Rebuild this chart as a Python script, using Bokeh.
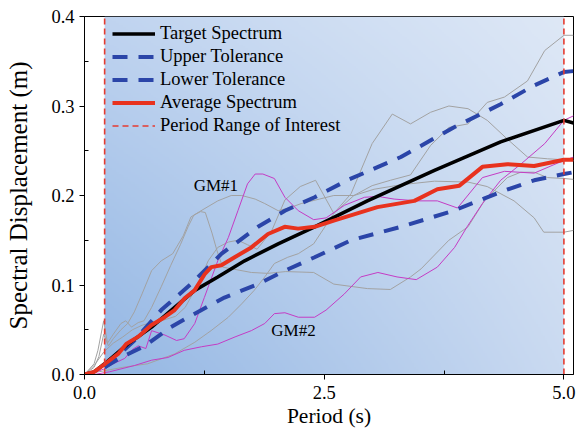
import numpy as np
from bokeh.plotting import figure
from bokeh.models import FixedTicker, Legend, LegendItem, Range1d, PrintfTickFormatter
from bokeh.core.properties import value
from bokeh.embed import file_html
from bokeh.resources import INLINE

# ---------------- data ----------------
target_T = [0, 0.1, 0.21, 0.45, 0.7, 0.94, 1.15, 1.39, 1.67, 2.02, 2.4, 2.95, 3.65, 4.34, 5.0, 5.1]
target_Sd = [0, 0.003, 0.012, 0.034, 0.053, 0.075, 0.094, 0.109, 0.127, 0.146, 0.165, 0.194, 0.228, 0.26, 0.284, 0.281]

upper_T = [0.21, 0.26, 0.52, 0.8, 1.11, 1.43, 1.81, 2.09, 2.4, 2.74, 3.3, 3.85, 4.34, 4.69, 5.0, 5.1]
upper_Sd = [0.008, 0.012, 0.038, 0.072, 0.101, 0.135, 0.165, 0.183, 0.198, 0.217, 0.243, 0.276, 0.302, 0.323, 0.338, 0.339]

lower_T = [0.21, 0.38, 0.63, 0.9, 1.15, 1.46, 1.81, 2.09, 2.4, 2.78, 3.3, 3.85, 4.34, 4.69, 5.0, 5.1]
lower_Sd = [0.008, 0.019, 0.032, 0.053, 0.068, 0.086, 0.101, 0.116, 0.131, 0.15, 0.165, 0.183, 0.204, 0.217, 0.224, 0.226]

avg_T = [0, 0.1, 0.216, 0.35, 0.435, 0.557, 0.696, 0.835, 0.94, 1.044, 1.148, 1.253, 1.322, 1.427, 1.566,
         1.74, 1.914, 2.088, 2.227, 2.4, 2.6, 3.055, 3.44, 3.68, 3.91, 4.15, 4.41, 4.69, 5.0, 5.1]
avg_Sd = [0, 0.003, 0.012, 0.023, 0.034, 0.042, 0.055, 0.064, 0.072, 0.085, 0.094, 0.112, 0.12, 0.122, 0.131,
          0.142, 0.157, 0.165, 0.163, 0.165, 0.172, 0.187, 0.194, 0.207, 0.211, 0.232, 0.235, 0.233, 0.24, 0.24]

gm1_T = [0, 0.1, 0.2, 0.3, 0.42, 0.5, 0.56, 0.64, 0.7, 0.84, 0.96, 1.04, 1.15, 1.25, 1.39, 1.5, 1.6, 1.7, 1.78,
         1.86, 1.98, 2.09, 2.23, 2.39, 2.52, 2.71, 2.92, 3.06, 3.23, 3.47, 3.68, 3.89, 4.15, 4.38, 4.69, 4.93, 5.1]
gm1_Sd = [0, 0.002, 0.006, 0.012, 0.018, 0.028, 0.032, 0.029, 0.049, 0.044, 0.038, 0.04, 0.057, 0.086, 0.127,
          0.153, 0.183, 0.213, 0.224, 0.224, 0.219, 0.198, 0.183, 0.173, 0.175, 0.189, 0.198, 0.199, 0.196,
          0.194, 0.194, 0.186, 0.22, 0.227, 0.225, 0.236, 0.243]

gm2_T = [0, 0.1, 0.26, 0.52, 0.7, 0.87, 1.04, 1.22, 1.39, 1.57, 1.74, 1.88, 1.98, 2.09, 2.23, 2.4, 2.52, 2.71,
         2.88, 3.06, 3.26, 3.46, 3.68, 3.86, 3.99, 4.15, 4.34, 4.55, 4.8, 5.0, 5.1]
gm2_Sd = [0, 0.0, 0.003, 0.01, 0.016, 0.019, 0.027, 0.031, 0.034, 0.042, 0.049, 0.057, 0.068, 0.069, 0.064,
          0.064, 0.072, 0.09, 0.109, 0.114, 0.109, 0.106, 0.12, 0.142, 0.165, 0.191, 0.217, 0.235, 0.258, 0.284, 0.289]

g1_T = [0, 0.1, 0.15, 0.2, 0.25, 0.3, 0.38, 0.45, 0.52, 0.6, 0.7, 0.8, 0.92, 1.03, 1.11, 1.2, 1.39, 1.53, 1.64,
        1.78, 1.88, 2.02, 2.16, 2.26, 2.45, 2.6, 2.81, 3.02, 3.3, 3.65, 4.0, 4.2, 4.48, 4.69, 4.79, 5.0, 5.1]
g1_Sd = [0, 0.008, 0.02, 0.045, 0.032, 0.04, 0.05, 0.057, 0.07, 0.09, 0.116, 0.127, 0.135, 0.155, 0.176, 0.182,
         0.194, 0.2, 0.2, 0.196, 0.191, 0.183, 0.187, 0.191, 0.196, 0.2, 0.2, 0.207, 0.212, 0.216, 0.215, 0.21,
         0.194, 0.175, 0.159, 0.159, 0.161]

g2_T = [0, 0.1, 0.14, 0.2, 0.24, 0.3, 0.38, 0.43, 0.49, 0.56, 0.62, 0.7, 0.8, 0.9, 1.0, 1.08, 1.14, 1.21, 1.26,
        1.33, 1.38, 1.44, 1.54, 1.74, 1.91, 2.1, 2.39, 2.6, 2.95, 3.19, 3.4, 3.51, 3.8, 4.0, 4.17, 4.41, 4.55,
        4.69, 4.83, 5.0, 5.1]
g2_Sd = [0, 0.012, 0.027, 0.06, 0.035, 0.045, 0.057, 0.06, 0.053, 0.058, 0.06, 0.075, 0.098, 0.122, 0.145, 0.165,
         0.178, 0.182, 0.181, 0.158, 0.139, 0.12, 0.118, 0.114, 0.113, 0.115, 0.114, 0.101, 0.096, 0.095, 0.109,
         0.118, 0.15, 0.165, 0.194, 0.22, 0.226, 0.226, 0.22, 0.219, 0.218]

g3_T = [0, 0.2, 0.4, 0.66, 0.94, 1.15, 1.32, 1.5, 1.64, 1.77, 1.88, 1.98, 2.12, 2.23, 2.39, 2.6, 2.81, 3.0, 3.19,
        3.4, 3.61, 3.8, 4.0, 4.2, 4.38, 4.62, 4.8, 5.0, 5.1]
g3_Sd = [0, 0.004, 0.008, 0.012, 0.023, 0.036, 0.049, 0.064, 0.079, 0.094, 0.109, 0.124, 0.131, 0.135, 0.146,
         0.18, 0.2, 0.211, 0.217, 0.223, 0.256, 0.276, 0.28, 0.304, 0.31, 0.328, 0.362, 0.379, 0.379]

g4_T = [0, 0.1, 0.2, 0.3, 0.4, 0.5, 0.6, 0.7, 0.8, 0.95, 1.05, 1.18, 1.29, 1.39, 1.5, 1.6, 1.7, 1.8, 1.95, 2.09,
        2.25, 2.41, 2.6, 2.78, 3.0, 3.21, 3.4, 3.61, 3.8, 4.0, 4.2, 4.41, 4.62, 4.83, 5.0, 5.1]
g4_Sd = [0, 0.01, 0.025, 0.035, 0.042, 0.05, 0.055, 0.058, 0.06, 0.065, 0.075, 0.1, 0.127, 0.142, 0.148, 0.15,
         0.145, 0.14, 0.16, 0.195, 0.21, 0.217, 0.18, 0.202, 0.258, 0.291, 0.28, 0.293, 0.3, 0.297, 0.284, 0.263,
         0.243, 0.241, 0.24, 0.239]

period_range = [0.21, 5.0]
gm_labels = ["GM#1", "GM#2"]
gm_label_T = [1.37, 2.18]
gm_label_Sd = [0.211, 0.049]

x_ticks = [0.0, 2.5, 5.0]
x_minor = [1.25, 3.75]
y_ticks = [0.0, 0.1, 0.2, 0.3, 0.4]
y_minor = [0.05, 0.15, 0.25, 0.35]

# ---------------- figure ----------------
FONT = "Liberation Serif"
p = figure(width=579, height=436, output_backend="svg", toolbar_location=None,
           x_range=Range1d(0, 5.1), y_range=Range1d(0, 0.4),
           min_border_left=84, min_border_right=6, min_border_top=16, min_border_bottom=62)
p.background_fill_color = "white"
p.border_fill_color = "white"
p.outline_line_color = "black"
p.outline_line_width = 1
p.xgrid.visible = False
p.ygrid.visible = False

# shaded gradient in period range of interest
ny, nx = 200, 260
yy, xx = np.mgrid[0:ny, 0:nx]
s = yy / (ny - 1)  # 0 bottom -> 1 top
t = xx / (nx - 1)  # 0 left -> 1 right
BL = np.array([148, 183, 228]); TL = np.array([192, 212, 240])
BR = np.array([202, 218, 241]); TR = np.array([222, 232, 246])
col = ((1 - s)[..., None] * ((1 - t)[..., None] * BL + t[..., None] * BR)
       + s[..., None] * ((1 - t)[..., None] * TL + t[..., None] * TR))
rgba = np.zeros((ny, nx, 4), dtype=np.uint8)
rgba[..., :3] = col.astype(np.uint8)
rgba[..., 3] = 255
img = rgba.view(dtype=np.uint32).reshape((ny, nx))
p.image_rgba(image=[img], x=period_range[0], y=0, dw=period_range[1] - period_range[0], dh=0.4)

GRAY = "#a2a2a2"
MAG = "#c43cc4"
for tx, sy in [(g1_T, g1_Sd), (g2_T, g2_Sd), (g3_T, g3_Sd), (g4_T, g4_Sd)]:
    p.line(tx, sy, line_color=GRAY, line_width=1)
for tx, sy in [(gm1_T, gm1_Sd), (gm2_T, gm2_Sd)]:
    p.line(tx, sy, line_color=MAG, line_width=1)

BLUE = "#2b45a8"
r_up = p.line(upper_T, upper_Sd, line_color=BLUE, line_width=4, line_dash="15 11")
r_lo = p.line(lower_T, lower_Sd, line_color=BLUE, line_width=4, line_dash="15 11")
r_tg = p.line(target_T, target_Sd, line_color="black", line_width=3.5)
r_av = p.line(avg_T, avg_Sd, line_color="#e8321e", line_width=4)
r_pr = p.segment(x0=period_range, y0=[0, 0], x1=period_range, y1=[0.4, 0.4],
                 line_color="#e53b30", line_width=1.6, line_dash="6 4")

p.text(x=gm_label_T, y=gm_label_Sd, text=gm_labels, text_font=value(FONT), text_font_size="17px",
       text_align="center", text_baseline="middle", text_color="black")

legend = Legend(items=[
    LegendItem(label="Target Spectrum", renderers=[r_tg]),
    LegendItem(label="Upper Tolerance", renderers=[r_up]),
    LegendItem(label="Lower Tolerance", renderers=[r_lo]),
    LegendItem(label="Average Spectrum", renderers=[r_av]),
    LegendItem(label="Period Range of Interest", renderers=[r_pr]),
], location=(26, 236))
legend.padding = 2
legend.margin = 0
legend.spacing = 2
legend.glyph_width = 43
legend.glyph_height = 21
legend.label_height = 21
legend.label_standoff = 5
legend.label_text_font = FONT
legend.label_text_font_size = "18.5px"
legend.label_text_color = "black"
legend.background_fill_alpha = 0
legend.border_line_alpha = 0
p.add_layout(legend)

# axes
for ax in (p.xaxis[0], p.yaxis[0]):
    ax.axis_line_color = "black"
    ax.major_tick_line_color = "black"
    ax.minor_tick_line_color = "black"
    ax.major_tick_out = 5
    ax.major_tick_in = 0
    ax.minor_tick_in = 4
    ax.minor_tick_out = 0
    ax.major_label_text_font = FONT
    ax.major_label_text_font_size = "18.5px"
    ax.major_label_text_color = "black"
    ax.axis_label_text_font = FONT
    ax.axis_label_text_font_style = "normal"
    ax.axis_label_text_color = "black"
    ax.formatter = PrintfTickFormatter(format="%.1f")

p.xaxis.ticker = FixedTicker(ticks=x_ticks, minor_ticks=x_minor)
p.yaxis.ticker = FixedTicker(ticks=y_ticks, minor_ticks=y_minor)
p.xaxis.axis_label = "Period (s)"
p.yaxis.axis_label = "Spectral Displacement (m)"
p.xaxis.axis_label_text_font_size = "21.5px"
p.yaxis.axis_label_text_font_size = "25px"
p.xaxis.major_label_standoff = 6
p.yaxis.major_label_standoff = 5
p.xaxis.axis_label_standoff = 2
p.yaxis.axis_label_standoff = 16

open("out.html", "w").write(file_html(p, INLINE))
